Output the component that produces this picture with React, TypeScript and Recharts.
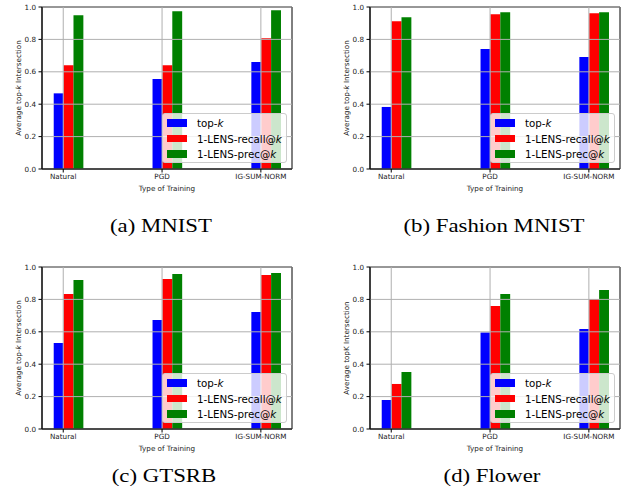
import React from 'react';
import { BarChart, Bar, XAxis, YAxis, Legend, Label, ReferenceArea, ReferenceLine } from 'recharts';

// ---------- data ----------
const categories = ['Natural', 'PGD', 'IG-SUM-NORM'];
const seriesNames = ['top-k', '1-LENS-recall@k', '1-LENS-prec@k'];
const seriesColors = ['#0000ff', '#ff0000', '#008000'];
const yTicks = [0, 0.2, 0.4, 0.6, 0.8, 1.0];
const xTicks = [0, 1, 2];

const mnistTopK = [0.467, 0.555, 0.66];
const mnistRecall = [0.641, 0.641, 0.807];
const mnistPrec = [0.949, 0.973, 0.98];

const fashionTopK = [0.383, 0.74, 0.691];
const fashionRecall = [0.912, 0.955, 0.961];
const fashionPrec = [0.936, 0.967, 0.967];

const gtsrbTopK = [0.531, 0.673, 0.722];
const gtsrbRecall = [0.833, 0.926, 0.951];
const gtsrbPrec = [0.92, 0.957, 0.963];

const flowerTopK = [0.179, 0.595, 0.617];
const flowerRecall = [0.278, 0.759, 0.802];
const flowerPrec = [0.352, 0.833, 0.858];

const captions = ['(a) MNIST', '(b) Fashion MNIST', '(c) GTSRB', '(d) Flower'];
const yLabels = ['Average top-k Intersection', 'Average top-k Intersection', 'Average top-k Intersection', 'Average topK Intersection'];

// ---------- layout / style ----------
const X_DOMAIN: [number, number] = [-0.215, 2.315];
const CHART_W = 296;
const CHART_H = 200;
const MARGIN = { top: 7, right: 4, bottom: 7, left: 12 };
const Y_AXIS_W = 30;
const X_AXIS_H = 24;
const PLOT_W = CHART_W - MARGIN.left - MARGIN.right - Y_AXIS_W;
const BAR_PX = (PLOT_W / (X_DOMAIN[1] - X_DOMAIN[0])) * 0.1;
const SMALL_FONT = 7.2;
const FONT = 'DejaVu Sans';
const GRID = '#b0b0b0';

const renderItalicK = (text: string) => {
  const idx = text.indexOf('top-k');
  if (idx >= 0) {
    const before = text.slice(0, idx + 4);
    const after = text.slice(idx + 5);
    return [before, 'k', after];
  }
  if (text.endsWith('@k')) return [text.slice(0, -1), 'k', ''];
  return [text, '', ''];
};

const LegendBox = (props: any) => {
  const items = (props.payload || [])
    .filter((p: any) => p.type !== 'none' && seriesNames.includes(String(p.value)))
    .sort((p: any, q: any) => seriesNames.indexOf(String(p.value)) - seriesNames.indexOf(String(q.value)));
  return (
    <div
      style={{
        background: 'rgba(255,255,255,0.8)',
        border: '1px solid #cccccc',
        borderRadius: 3,
        width: 125,
        height: 50,
        boxSizing: 'border-box',
        paddingTop: 1.5,
        paddingLeft: 4,
        fontFamily: FONT,
        fontSize: 10.3,
        color: '#000',
      }}
    >
      {items.map((it: any) => {
        const [a, k, b] = renderItalicK(String(it.value));
        return (
          <div key={it.value} style={{ display: 'flex', alignItems: 'center', height: 15.45, whiteSpace: 'nowrap' }}>
            <span style={{ display: 'inline-block', width: 20, height: 7.6, background: it.color, marginRight: 10 }} />
            <span>
              {a}
              {k && <i>{k}</i>}
              {b}
            </span>
          </div>
        );
      })}
    </div>
  );
};

const makeYLabel = (text: string) => (props: any) => {
  const vb = props.viewBox || { x: 12, y: 7, width: 30, height: 162 };
  const cx = vb.x + 6;
  const cy = vb.y + vb.height / 2;
  const [a, k, b] = renderItalicK(text);
  return (
    <text
      x={cx}
      y={cy}
      transform={`rotate(-90 ${cx} ${cy})`}
      textAnchor="middle"
      dominantBaseline="central"
      fontSize={SMALL_FONT}
      fontFamily={FONT}
      fill="#222"
    >
      {a}
      {k && <tspan fontStyle="italic">{k}</tspan>}
      {b}
    </text>
  );
};

type PanelProps = {
  topk: number[];
  recall: number[];
  prec: number[];
  yLabel: string;
  left: number;
  top: number;
};

const Panel = ({ topk, recall, prec, yLabel, left, top }: PanelProps) => {
  const data = categories.map((c, i) => ({
    pos: i,
    name: c,
    spacer: 0,
    topk: topk[i],
    recall: recall[i],
    prec: prec[i],
  }));
  const tickStyle = { fontSize: SMALL_FONT, fontFamily: FONT, fill: '#222' };
  return (
    <div style={{ position: 'absolute', left, top }}>
      <BarChart width={CHART_W} height={CHART_H} data={data} margin={MARGIN} barGap={0} barSize={BAR_PX}>
        <XAxis
          dataKey="pos"
          type="number"
          domain={X_DOMAIN}
          allowDataOverflow
          ticks={xTicks}
          interval={0}
          tickFormatter={(v: number) => categories[v]}
          height={X_AXIS_H}
          tickSize={3.5}
          tickMargin={1.5}
          tickLine={{ stroke: '#000' }}
          axisLine={{ stroke: '#000' }}
          tick={tickStyle}
        >
          <Label value="Type of Training" position="insideBottom" offset={2.5} fontSize={SMALL_FONT} fontFamily={FONT} fill="#222" />
        </XAxis>
        <YAxis
          type="number"
          domain={[0, 1]}
          ticks={yTicks}
          interval={0}
          tickFormatter={(v: number) => v.toFixed(1)}
          width={Y_AXIS_W}
          tickSize={3.5}
          tickMargin={2.5}
          tickLine={{ stroke: '#000' }}
          axisLine={{ stroke: '#000' }}
          tick={tickStyle}
        >
          <Label content={makeYLabel(yLabel)} />
        </YAxis>
        <Bar dataKey="spacer" name="spacer" fill="none" legendType="none" isAnimationActive={false} />
        <Bar dataKey="topk" name={seriesNames[0]} fill={seriesColors[0]} isAnimationActive={false} />
        <Bar dataKey="recall" name={seriesNames[1]} fill={seriesColors[1]} isAnimationActive={false} />
        <Bar dataKey="prec" name={seriesNames[2]} fill={seriesColors[2]} isAnimationActive={false} />
        {yTicks.map((t) => (
          <ReferenceLine key={`y${t}`} y={t} stroke={GRID} strokeWidth={1} />
        ))}
        {xTicks.map((t) => (
          <ReferenceLine key={`x${t}`} x={t} stroke={GRID} strokeWidth={1} />
        ))}
        <ReferenceArea x1={X_DOMAIN[0]} x2={X_DOMAIN[1]} y1={0} y2={1} fill="none" stroke="#000" strokeWidth={1} fillOpacity={0} />
        <Legend
          layout="vertical"
          align="center"
          verticalAlign="middle"
          content={<LegendBox />}
          wrapperStyle={{ left: 162, top: 113, width: 125, height: 50 }}
        />
      </BarChart>
    </div>
  );
};

const captionStyle = (left: number, top: number, width: number): React.CSSProperties => ({
  position: 'absolute',
  left,
  top,
  width,
  textAlign: 'center',
  fontFamily: '"Liberation Serif", "Times New Roman", serif',
  fontSize: 19,
  lineHeight: '20px',
  color: '#000',
  whiteSpace: 'nowrap',
  transform: 'scaleX(1.2)',
  transformOrigin: 'center',
});

export default function App() {
  return (
    <div style={{ position: 'absolute', left: 0, top: 0, width: 624, height: 498, background: '#fff', overflow: 'hidden' }}>
      <Panel topk={mnistTopK} recall={mnistRecall} prec={mnistPrec} yLabel={yLabels[0]} left={0} top={0} />
      <Panel topk={fashionTopK} recall={fashionRecall} prec={fashionPrec} yLabel={yLabels[1]} left={328} top={0} />
      <Panel topk={gtsrbTopK} recall={gtsrbRecall} prec={gtsrbPrec} yLabel={yLabels[2]} left={0} top={260} />
      <Panel topk={flowerTopK} recall={flowerRecall} prec={flowerPrec} yLabel={yLabels[3]} left={328} top={260} />
      <div style={captionStyle(61, 216, 200)}>{captions[0]}</div>
      <div style={captionStyle(394, 216, 200)}>{captions[1]}</div>
      <div style={captionStyle(64, 466, 200)}>{captions[2]}</div>
      <div style={captionStyle(392, 466, 200)}>{captions[3]}</div>
    </div>
  );
}
